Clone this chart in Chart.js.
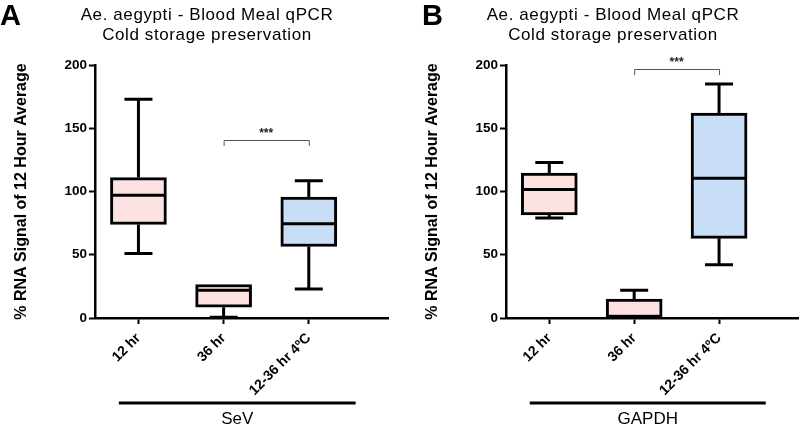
<!DOCTYPE html>
<html>
<head>
<meta charset="utf-8">
<script src="https://cdn.jsdelivr.net/npm/chart.js@4/dist/chart.umd.min.js"></script>
<style>
    html, body { margin: 0; padding: 0; background: #fff; }
    #wrap { position: relative; width: 800px; height: 427px; }
    .panel { position: absolute; top: 0; width: 400px; height: 427px; }
</style>
</head>
<body>
<div id="wrap">
    <div class="panel" style="left:0"><canvas id="chart-a" width="400" height="427"></canvas></div>
    <div class="panel" style="left:400px"><canvas id="chart-b" width="400" height="427"></canvas></div>
</div>
<script>
(function() {
    'use strict';

    var categories = ['12 hr', '36 hr', '12-36 hr 4\u00baC'];
    var boxColors = ['#fde2e2', '#fde2e2', '#c8ddf6'];
    var yTicks = [0, 50, 100, 150, 200];

    // panel A - SeV
    var minA = [51, 0.5, 23];
    var q1A = [74, 8.5, 56.5];
    var medA = [97, 22, 74.5];
    var q3A = [111, 26.5, 95.5];
    var maxA = [173, 26.5, 108.5];

    // panel B - GAPDH
    var minB = [79, 0, 42];
    var q1B = [81.5, 0, 63];
    var medB = [101.5, 0, 110.5];
    var q3B = [114.5, 15, 162];
    var maxB = [123, 22, 185];

    // significance brackets: [from category, to category, bracket y, foot y]
    var sigA = [2, 3, 141, 136];
    var sigB = [2, 3, 196.5, 192];

    var titleLines = ['Ae. aegypti - Blood Meal qPCR', 'Cold storage preservation'];
    var yTitle = '% RNA Signal of 12 Hour Average';

    var FONT = '"Liberation Sans", Arial, sans-serif';

    var boxPlugin = {
        id: 'boxParts',
        afterDatasetsDraw: function(chart) {
            var p = chart.options.plugins.boxParts;
            var xs = chart.scales.x, ys = chart.scales.y;
            var ctx = chart.ctx;
            ctx.save();
            ctx.strokeStyle = '#000';
            ctx.lineWidth = 3;
            ctx.lineCap = 'butt';
            for (var i = 0; i < categories.length; i++) {
                var cx = xs.getPixelForValue(i + 1);
                var yMin = ys.getPixelForValue(p.min[i]),
                    yQ1 = ys.getPixelForValue(p.q1[i]),
                    yMed = ys.getPixelForValue(p.med[i]),
                    yQ3 = ys.getPixelForValue(p.q3[i]),
                    yMax = ys.getPixelForValue(p.max[i]);
                ctx.beginPath();
                if (p.max[i] > p.q3[i]) {
                    ctx.moveTo(cx, yQ3); ctx.lineTo(cx, yMax);
                    ctx.moveTo(cx - 14, yMax); ctx.lineTo(cx + 14, yMax);
                }
                if (p.min[i] < p.q1[i]) {
                    ctx.moveTo(cx, yQ1); ctx.lineTo(cx, yMin);
                    ctx.moveTo(cx - 14, yMin); ctx.lineTo(cx + 14, yMin);
                }
                if (p.med[i] > 0) {
                    ctx.moveTo(cx - 27, yMed); ctx.lineTo(cx + 27, yMed);
                }
                ctx.stroke();
            }

            // significance bracket
            var s = p.sig;
            var x1 = xs.getPixelForValue(s[0]), x2 = xs.getPixelForValue(s[1]);
            var yb = Math.round(ys.getPixelForValue(s[2])) + 0.5, yf = ys.getPixelForValue(s[3]);
            ctx.strokeStyle = '#555';
            ctx.lineWidth = 1;
            ctx.beginPath();
            ctx.moveTo(x1 + 0.5, yf); ctx.lineTo(x1 + 0.5, yb); ctx.lineTo(x2 + 0.5, yb); ctx.lineTo(x2 + 0.5, yf);
            ctx.stroke();
            ctx.fillStyle = '#223';
            ctx.font = 'bold 12px ' + FONT;
            ctx.textAlign = 'center';
            ctx.textBaseline = 'bottom';
            ctx.fillText('***', (x1 + x2) / 2, yb - 1);
            ctx.restore();
        },
        afterDraw: function(chart) {
            var p = chart.options.plugins.boxParts;
            var ctx = chart.ctx;
            var xs = chart.scales.x;
            ctx.save();
            ctx.fillStyle = '#000';
            ctx.textBaseline = 'middle';

            ctx.font = 'bold 29px ' + FONT;
            ctx.textAlign = 'left';
            ctx.fillText(p.letter, p.letterX, 17);

            ctx.font = '17px ' + FONT;
            ctx.textAlign = 'center';
            if ('letterSpacing' in ctx) ctx.letterSpacing = '0.6px';
            ctx.fillText(titleLines[0], p.titleX, 15);
            ctx.fillText(titleLines[1], p.titleX, 35);
            if ('letterSpacing' in ctx) ctx.letterSpacing = '0px';

            // group bar under the categories
            var gx1 = xs.getPixelForValue(0.77), gx2 = xs.getPixelForValue(3.55);
            ctx.strokeStyle = '#000';
            ctx.lineWidth = 3;
            ctx.beginPath();
            ctx.moveTo(gx1, 403); ctx.lineTo(gx2, 403);
            ctx.stroke();
            ctx.font = '17px ' + FONT;
            ctx.fillText(p.group, (gx1 + gx2) / 2, 419);
            ctx.restore();
        }
    };

    function buildChart(el, parts, yWidth, padRight, titlePad) {
        var boxes = categories.map(function(c, i) {
            return { x: i + 1, y: [parts.q1[i], parts.q3[i]] };
        });

        return new Chart(el, {
            type: 'bar',
            data: {
                datasets: [{
                    data: boxes,
                    backgroundColor: boxColors,
                    borderColor: '#000',
                    borderWidth: 3,
                    borderSkipped: false,
                    barThickness: 56
                }]
            },
            options: {
                responsive: false,
                animation: false,
                layout: { padding: { top: 65, left: 0, right: padRight, bottom: 0 } },
                plugins: {
                    legend: { display: false },
                    tooltip: { enabled: false },
                    boxParts: parts
                },
                scales: {
                    x: {
                        type: 'linear',
                        offset: false,
                        min: 0.49,
                        max: 3.93,
                        afterFit: function(scale) { scale.height = 109; },
                        afterBuildTicks: function(scale) {
                            scale.ticks = categories.map(function(c, i) { return { value: i + 1 }; });
                        },
                        grid: { offset: false, drawOnChartArea: false, tickLength: 6, tickWidth: 2, tickColor: '#000' },
                        border: { color: '#000', width: 2.5 },
                        ticks: {
                            minRotation: 45,
                            maxRotation: 45,
                            padding: 6,
                            color: '#000',
                            font: { family: FONT, size: 14, weight: 'bold' },
                            callback: function(v) { return categories[v - 1]; }
                        }
                    },
                    y: {
                        min: 0,
                        max: 200,
                        afterFit: function(scale) { scale.width = yWidth; },
                        afterBuildTicks: function(scale) {
                            scale.ticks = yTicks.map(function(v) { return { value: v }; });
                        },
                        grid: { drawOnChartArea: false, tickLength: 6, tickWidth: 2, tickColor: '#000' },
                        border: { color: '#000', width: 2.5 },
                        ticks: {
                            padding: 2,
                            color: '#000',
                            font: { family: FONT, size: 13.5, weight: 'bold' }
                        },
                        title: {
                            display: true,
                            text: yTitle,
                            color: '#000',
                            padding: { top: titlePad, bottom: 0 },
                            font: { family: FONT, size: 16, weight: 'bold' }
                        }
                    }
                }
            },
            plugins: [boxPlugin]
        });
    }

    buildChart(document.getElementById('chart-a'), {
        min: minA, q1: q1A, med: medA, q3: q3A, max: maxA,
        sig: sigA, letter: 'A', letterX: 0, titleX: 207, group: 'SeV'
    }, 95, 12, 12);

    buildChart(document.getElementById('chart-b'), {
        min: minB, q1: q1B, med: medB, q3: q3B, max: maxB,
        sig: sigB, letter: 'B', letterX: 22, titleX: 213, group: 'GAPDH'
    }, 106, 2, 23);
})();
</script>
</body>
</html>
